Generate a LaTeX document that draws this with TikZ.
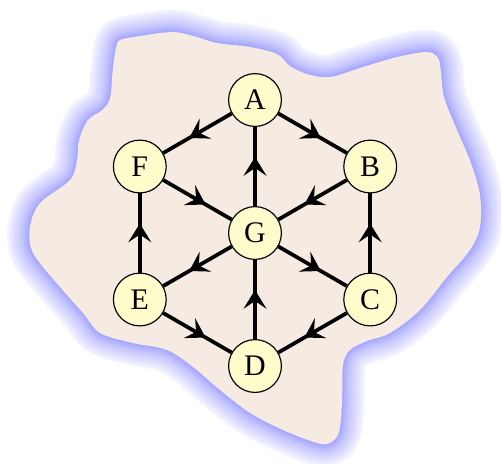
\documentclass[tikz,border=0pt]{standalone}
\usepackage{fontspec}
\setmainfont{Liberation Serif}
\usetikzlibrary{arrows.meta,decorations.markings}
\definecolor{blobfill}{RGB}{245,235,226}
\tikzset{
  vtx/.style={circle, draw=black, line width=0.5pt, fill=yellow!20, minimum size=22.6pt, inner sep=0pt, font=\fontsize{12.8}{14}\selectfont},
  edg/.style={line width=1.6pt, postaction={decorate},
    decoration={markings, mark=at position 0.62 with {\arrow{Stealth[length=8pt,width=9.8pt,inset=3.3pt]}}}}
}
\begin{document}
\begin{tikzpicture}[x=0.015038cm, y=-0.015038cm]
\useasboundingbox (0,0) rectangle (501,463);
\path[save path=\blobp] plot[smooth cycle, tension=0.55] coordinates {
 (120,40) (140,36) (173,32) (197,37) (217,43) (250,47) (277,54) (290,66) (307,74) (330,77)
 (363,67) (397,57) (427,52) (438,58) (441,72) (444,97) (457,130) (471,163) (480,195) (480,227)
 (470,250) (447,277) (420,310) (390,333) (367,341) (350,350) (343,365) (342,403) (339,432) (330,443)
 (317,443) (283,430) (250,413) (220,390) (193,367) (167,350) (133,343) (100,333) (83,313) (60,287)
 (33,253) (30,227) (40,203) (70,180) (77,160) (79,140) (88,120) (102,110) (110,98) (113,67) (116,48)};
\foreach \w/\c in {19/5, 17/8, 15/11, 13/14, 11/17, 9/20, 7/23, 5/27, 3/31, 1.2/35}{
  \draw[use path=\blobp, line width=\w pt, blue!\c, line join=round];
}
\fill[use path=\blobp, blobfill];
\node[vtx] (G) at (255,233) {G};
\node[vtx] (A) at (255,100) {A};
\node[vtx] (D) at (255,366) {D};
\node[vtx] (B) at (370.2,166.5) {B};
\node[vtx] (C) at (370.2,299.5) {C};
\node[vtx] (E) at (139.8,299.5) {E};
\node[vtx] (F) at (139.8,166.5) {F};
\draw[edg] (A) -- (F);
\draw[edg] (A) -- (B);
\draw[edg] (G) -- (A);
\draw[edg] (F) -- (G);
\draw[edg] (B) -- (G);
\draw[edg] (C) -- (B);
\draw[edg] (E) -- (F);
\draw[edg] (G) -- (E);
\draw[edg] (G) -- (C);
\draw[edg] (D) -- (G);
\draw[edg] (E) -- (D);
\draw[edg] (C) -- (D);
\end{tikzpicture}
\end{document}
